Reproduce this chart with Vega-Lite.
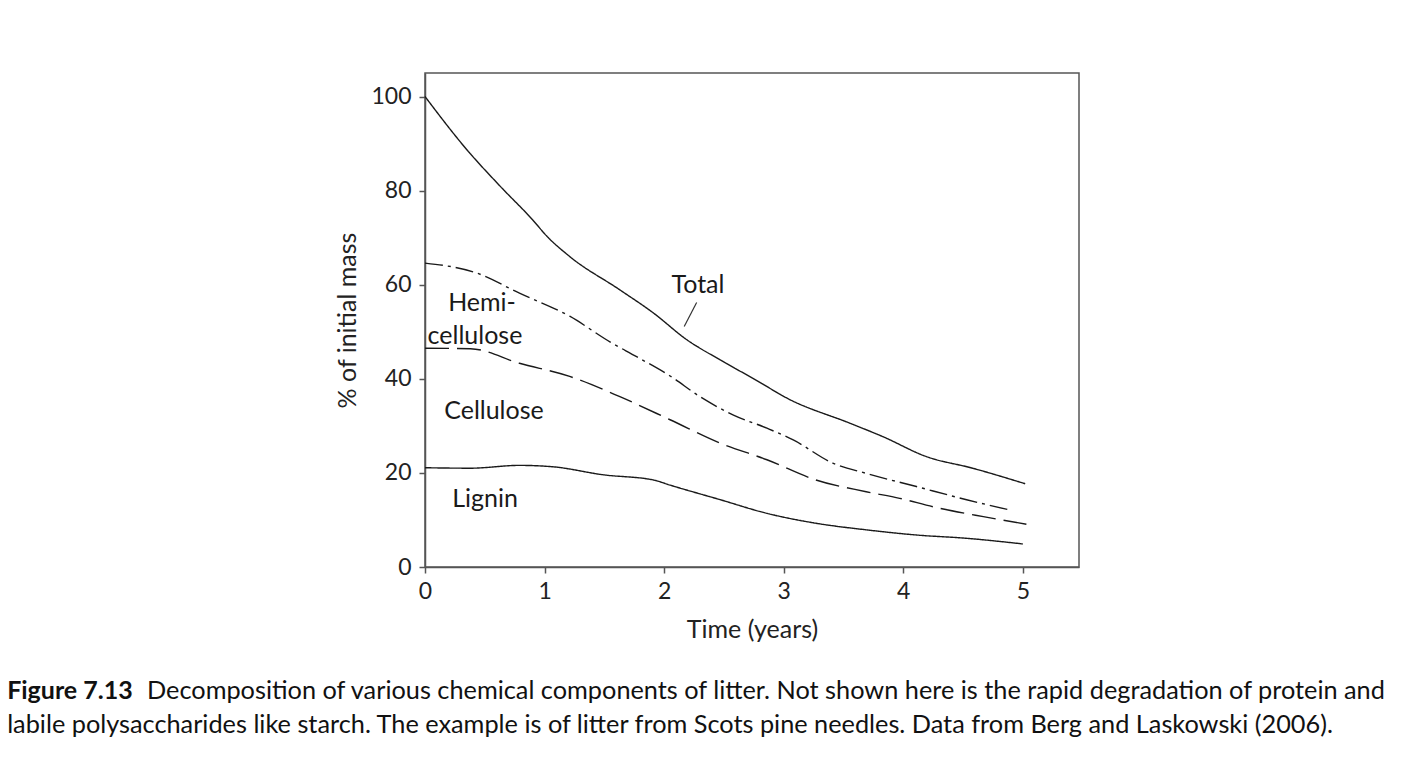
{
  "$schema": "https://vega.github.io/schema/vega-lite/v6.json",
  "autosize": "none",
  "width": 654,
  "height": 494,
  "padding": {"left": 425, "top": 73, "right": 323, "bottom": 199},
  "background": "white",
  "config": {
    "view": {"stroke": "#555555", "strokeWidth": 1.5},
    "font": "Lato",
    "axis": {
      "grid": false,
      "domainColor": "#555555",
      "domainWidth": 1.5,
      "tickColor": "#555555",
      "tickWidth": 1.5,
      "tickSize": 6,
      "labelFont": "Lato",
      "labelFontSize": 23,
      "labelColor": "#222222",
      "labelFontWeight": "normal",
      "titleFont": "Lato",
      "titleFontSize": 25,
      "titleFontWeight": "normal",
      "titleColor": "#222222"
    }
  },
  "datasets": {
    "curves": [
      {"series": "Total", "t": 0, "pct": 100},
      {"series": "Total", "t": 0.35, "pct": 88.7},
      {"series": "Total", "t": 0.63, "pct": 80.9},
      {"series": "Total", "t": 0.9, "pct": 73.8},
      {"series": "Total", "t": 1.02, "pct": 70.3},
      {"series": "Total", "t": 1.21, "pct": 66.0},
      {"series": "Total", "t": 1.63, "pct": 58.9},
      {"series": "Total", "t": 1.91, "pct": 54.0},
      {"series": "Total", "t": 2.19, "pct": 48.3},
      {"series": "Total", "t": 2.47, "pct": 44.0},
      {"series": "Total", "t": 2.75, "pct": 40.0},
      {"series": "Total", "t": 3.05, "pct": 35.6},
      {"series": "Total", "t": 3.55, "pct": 30.6},
      {"series": "Total", "t": 3.83, "pct": 27.7},
      {"series": "Total", "t": 4.19, "pct": 23.5},
      {"series": "Total", "t": 4.58, "pct": 21.0},
      {"series": "Total", "t": 5.02, "pct": 17.7},
      {"series": "Hemicellulose", "t": 0, "pct": 64.6},
      {"series": "Hemicellulose", "t": 0.43, "pct": 62.5},
      {"series": "Hemicellulose", "t": 0.79, "pct": 58.2},
      {"series": "Hemicellulose", "t": 1.21, "pct": 53.3},
      {"series": "Hemicellulose", "t": 1.55, "pct": 47.8},
      {"series": "Hemicellulose", "t": 1.77, "pct": 44.7},
      {"series": "Hemicellulose", "t": 2.05, "pct": 40.6},
      {"series": "Hemicellulose", "t": 2.3, "pct": 36.2},
      {"series": "Hemicellulose", "t": 2.58, "pct": 32.3},
      {"series": "Hemicellulose", "t": 2.86, "pct": 29.5},
      {"series": "Hemicellulose", "t": 3.08, "pct": 27.0},
      {"series": "Hemicellulose", "t": 3.41, "pct": 22.1},
      {"series": "Hemicellulose", "t": 3.69, "pct": 19.9},
      {"series": "Hemicellulose", "t": 4.11, "pct": 17.1},
      {"series": "Hemicellulose", "t": 4.53, "pct": 14.3},
      {"series": "Hemicellulose", "t": 4.91, "pct": 12.0},
      {"series": "Cellulose", "t": 0, "pct": 46.5},
      {"series": "Cellulose", "t": 0.38, "pct": 46.4},
      {"series": "Cellulose", "t": 0.79, "pct": 43.3},
      {"series": "Cellulose", "t": 1.21, "pct": 40.5},
      {"series": "Cellulose", "t": 1.63, "pct": 36.2},
      {"series": "Cellulose", "t": 2.05, "pct": 31.3},
      {"series": "Cellulose", "t": 2.47, "pct": 26.3},
      {"series": "Cellulose", "t": 2.86, "pct": 22.8},
      {"series": "Cellulose", "t": 3.27, "pct": 18.5},
      {"series": "Cellulose", "t": 3.69, "pct": 16.0},
      {"series": "Cellulose", "t": 3.97, "pct": 14.6},
      {"series": "Cellulose", "t": 4.25, "pct": 12.8},
      {"series": "Cellulose", "t": 4.67, "pct": 10.7},
      {"series": "Cellulose", "t": 5.03, "pct": 9.1},
      {"series": "Lignin", "t": 0, "pct": 21.1},
      {"series": "Lignin", "t": 0.38, "pct": 21.0},
      {"series": "Lignin", "t": 0.79, "pct": 21.6},
      {"series": "Lignin", "t": 1.07, "pct": 21.3},
      {"series": "Lignin", "t": 1.49, "pct": 19.6},
      {"series": "Lignin", "t": 1.91, "pct": 18.5},
      {"series": "Lignin", "t": 2.05, "pct": 17.4},
      {"series": "Lignin", "t": 2.47, "pct": 14.3},
      {"series": "Lignin", "t": 2.86, "pct": 11.4},
      {"series": "Lignin", "t": 3.27, "pct": 9.3},
      {"series": "Lignin", "t": 3.69, "pct": 7.9},
      {"series": "Lignin", "t": 4.11, "pct": 6.8},
      {"series": "Lignin", "t": 4.53, "pct": 6.1},
      {"series": "Lignin", "t": 5.0, "pct": 4.9}
    ],
    "labels": [
      {"label": "Total", "t": 2.283, "pct": 60.0},
      {"label": "Hemi-", "t": 0.477, "pct": 56.2},
      {"label": "cellulose", "t": 0.418, "pct": 49.1},
      {"label": "Cellulose", "t": 0.577, "pct": 33.2},
      {"label": "Lignin", "t": 0.502, "pct": 14.5}
    ],
    "pointer": [
      {"t": 2.168, "pct": 51.1, "t2": 2.272, "pct2": 56.2}
    ],
    "captionBold": [
      {"text": "Figure 7.13", "t": -3.495, "pct": -28.09}
    ],
    "caption": [
      {"text": "Decomposition of various chemical components of litter. Not shown here is the rapid degradation of protein and", "t": -2.325, "pct": -28.09},
      {"text": "labile polysaccharides like starch. The example is of litter from Scots pine needles. Data from Berg and Laskowski (2006).", "t": -3.495, "pct": -35.32}
    ]
  },
  "layer": [
    {
      "data": {"name": "curves"},
      "mark": {"type": "line", "interpolate": "monotone", "strokeWidth": 1.4, "color": "#1a1a1a"},
      "encoding": {
        "x": {
          "field": "t", "type": "quantitative",
          "scale": {"domain": [0, 5.47], "nice": false, "zero": false},
          "axis": {"values": [0, 1, 2, 3, 4, 5], "format": "d", "title": "Time (years)", "labelPadding": 7, "titlePadding": 14, "labelFlush": false}
        },
        "y": {
          "field": "pct", "type": "quantitative",
          "scale": {"domain": [0, 105], "nice": false},
          "axis": {"values": [0, 20, 40, 60, 80, 100], "format": "d", "title": "% of initial mass", "labelPadding": 8, "titlePadding": 10, "labelFlush": false}
        },
        "detail": {"field": "series"},
        "strokeDash": {
          "field": "series", "type": "nominal",
          "scale": {"domain": ["Total", "Hemicellulose", "Cellulose", "Lignin"], "range": [[1, 0], [18, 5, 3, 5], [24, 8], [1, 0]]},
          "legend": null
        }
      }
    },
    {
      "data": {"name": "pointer"},
      "mark": {"type": "rule", "strokeWidth": 1.2, "color": "#333333"},
      "encoding": {
        "x": {"field": "t", "type": "quantitative"},
        "y": {"field": "pct", "type": "quantitative"},
        "x2": {"field": "t2"},
        "y2": {"field": "pct2"}
      }
    },
    {
      "data": {"name": "labels"},
      "mark": {"type": "text", "font": "Lato", "fontSize": 25, "color": "#1a1a1a", "align": "center", "baseline": "middle"},
      "encoding": {
        "x": {"field": "t", "type": "quantitative"},
        "y": {"field": "pct", "type": "quantitative"},
        "text": {"field": "label"}
      }
    },
    {
      "data": {"name": "captionBold"},
      "mark": {"type": "text", "font": "Lato", "fontSize": 25, "fontWeight": "bold", "color": "#111111", "align": "left", "baseline": "alphabetic", "clip": false},
      "encoding": {
        "x": {"field": "t", "type": "quantitative"},
        "y": {"field": "pct", "type": "quantitative"},
        "text": {"field": "text"}
      }
    },
    {
      "data": {"name": "caption"},
      "mark": {"type": "text", "font": "Lato", "fontSize": 25.3, "color": "#111111", "align": "left", "baseline": "alphabetic", "clip": false},
      "encoding": {
        "x": {"field": "t", "type": "quantitative"},
        "y": {"field": "pct", "type": "quantitative"},
        "text": {"field": "text"}
      }
    }
  ]
}
